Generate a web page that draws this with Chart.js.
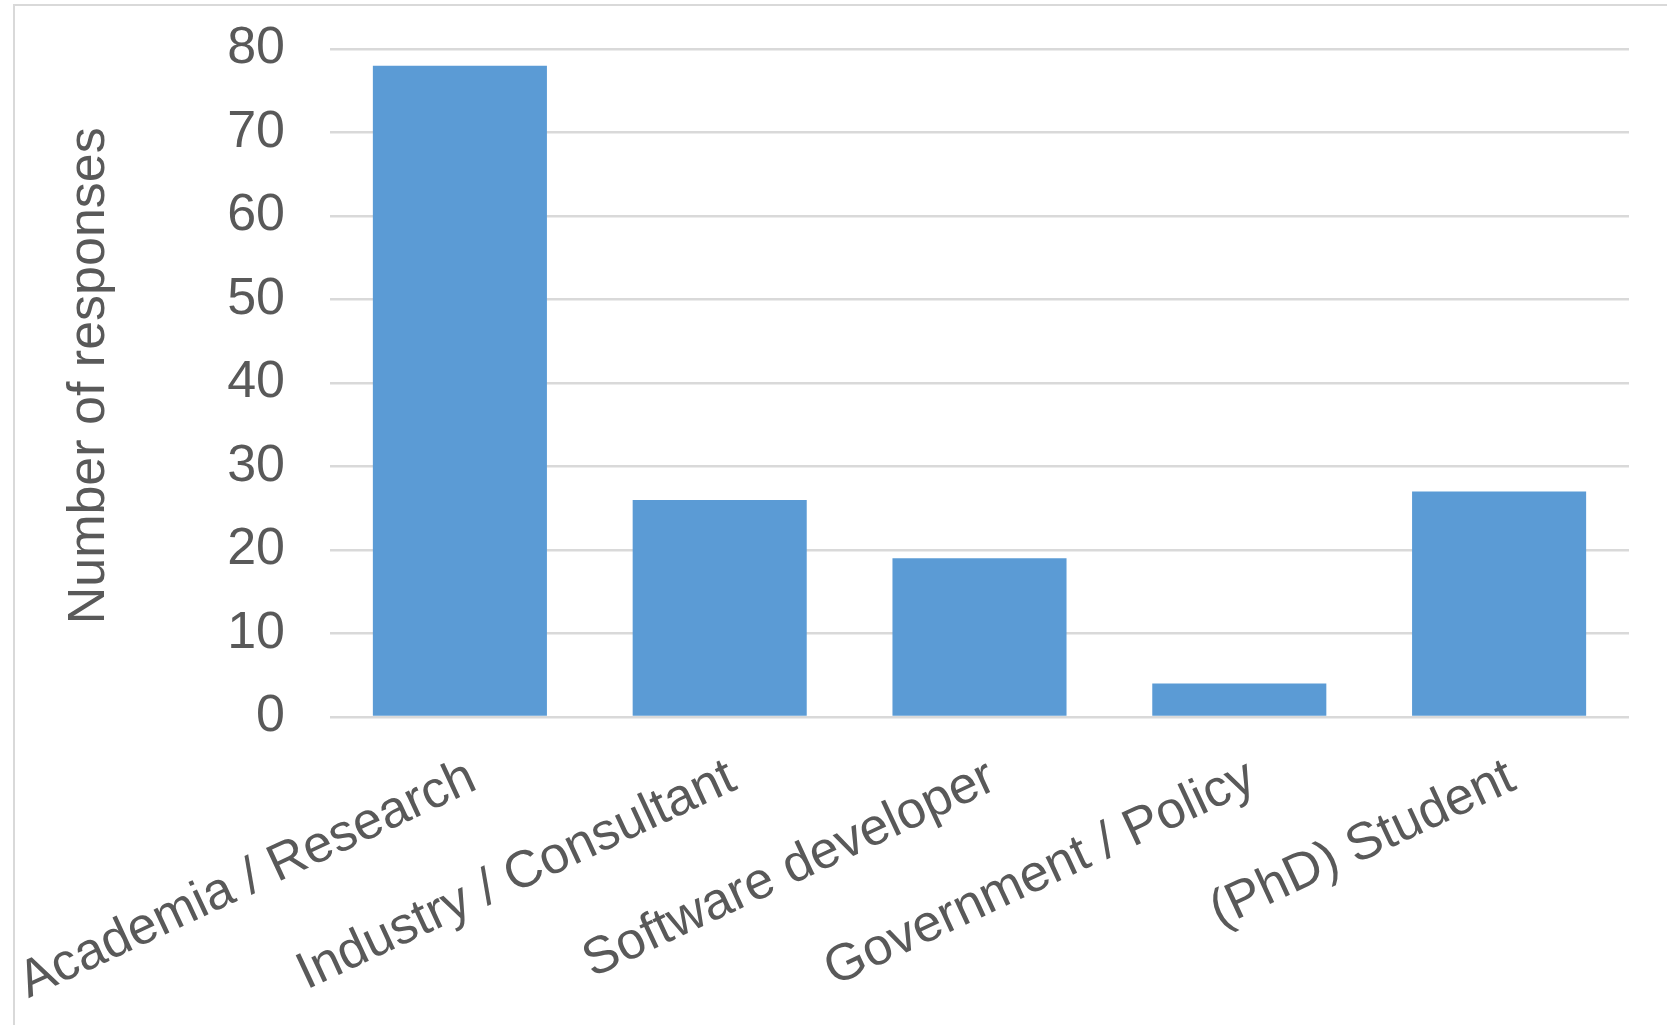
<!DOCTYPE html>
<html>
<head>
<meta charset="utf-8">
<script src="https://cdn.jsdelivr.net/npm/chart.js@4.4.0/dist/chart.umd.min.js"></script>
<style>
  html, body { margin: 0; padding: 0; background: #fff; }
  #wrap { position: relative; width: 1667px; height: 1025px; overflow: hidden; }
  #frame { position: absolute; left: 13px; top: 4px; width: 2000px; height: 2000px;
           border-left: 2px solid #d9d9d9; border-top: 2px solid #d9d9d9; pointer-events: none; }
</style>
</head>
<body>
<div id="wrap">
  <canvas id="myChart" width="1667" height="1025"></canvas>
  <div id="frame"></div>
</div>
<script>
const categories = ["Academia / Research", "Industry / Consultant", "Software developer", "Government / Policy", "(PhD) Student"];
const responses = [78, 26, 19, 4, 27];
const yTicks = [0, 10, 20, 30, 40, 50, 60, 70, 80];

const textColor = "#595959";
const fontFamily = "'Liberation Sans', Arial, sans-serif";

const ctx = document.getElementById("myChart");

new Chart(ctx, {
  type: "bar",
  data: {
    labels: categories,
    datasets: [
      {
        label: "Number of responses",
        data: responses,
        backgroundColor: "#5b9bd5",
        borderWidth: 0,
        barPercentage: 0.67,
        categoryPercentage: 1.0
      }
    ]
  },
  options: {
    responsive: false,
    animation: false,
    layout: {
      padding: { left: 0, right: 38, top: 49, bottom: 0 }
    },
    plugins: {
      legend: { display: false },
      tooltip: { enabled: false }
    },
    scales: {
      y: {
        min: yTicks[0],
        max: yTicks[yTicks.length - 1],
        afterFit: (scale) => {
          scale.width = 330;
          // tick padding is added to the top/bottom padding, not wanted here
          scale.paddingTop = 0;
          scale.paddingBottom = 0;
        },
        afterBuildTicks: (scale) => { scale.ticks = yTicks.map(v => ({ value: v })); },
        border: { display: false },
        grid: { color: "#d9d9d9", lineWidth: 2.5, drawTicks: false },
        ticks: {
          padding: 45,
          color: textColor,
          font: { family: fontFamily, size: 52 }
        },
        title: {
          display: true,
          text: " Number of responses",
          color: textColor,
          font: { family: fontFamily, size: 52 },
          padding: { top: 58, bottom: 0 }
        }
      },
      x: {
        afterFit: (scale) => {
          scale.height = 308;
          scale.paddingLeft = 0;
          scale.paddingRight = 0;
        },
        border: { display: false },
        grid: { display: false, drawTicks: false },
        ticks: {
          autoSkip: false,
          minRotation: 25,
          maxRotation: 25,
          padding: 30,
          labelOffset: 13,
          color: textColor,
          font: { family: fontFamily, size: 52 }
        }
      }
    }
  }
});
</script>
</body>
</html>
